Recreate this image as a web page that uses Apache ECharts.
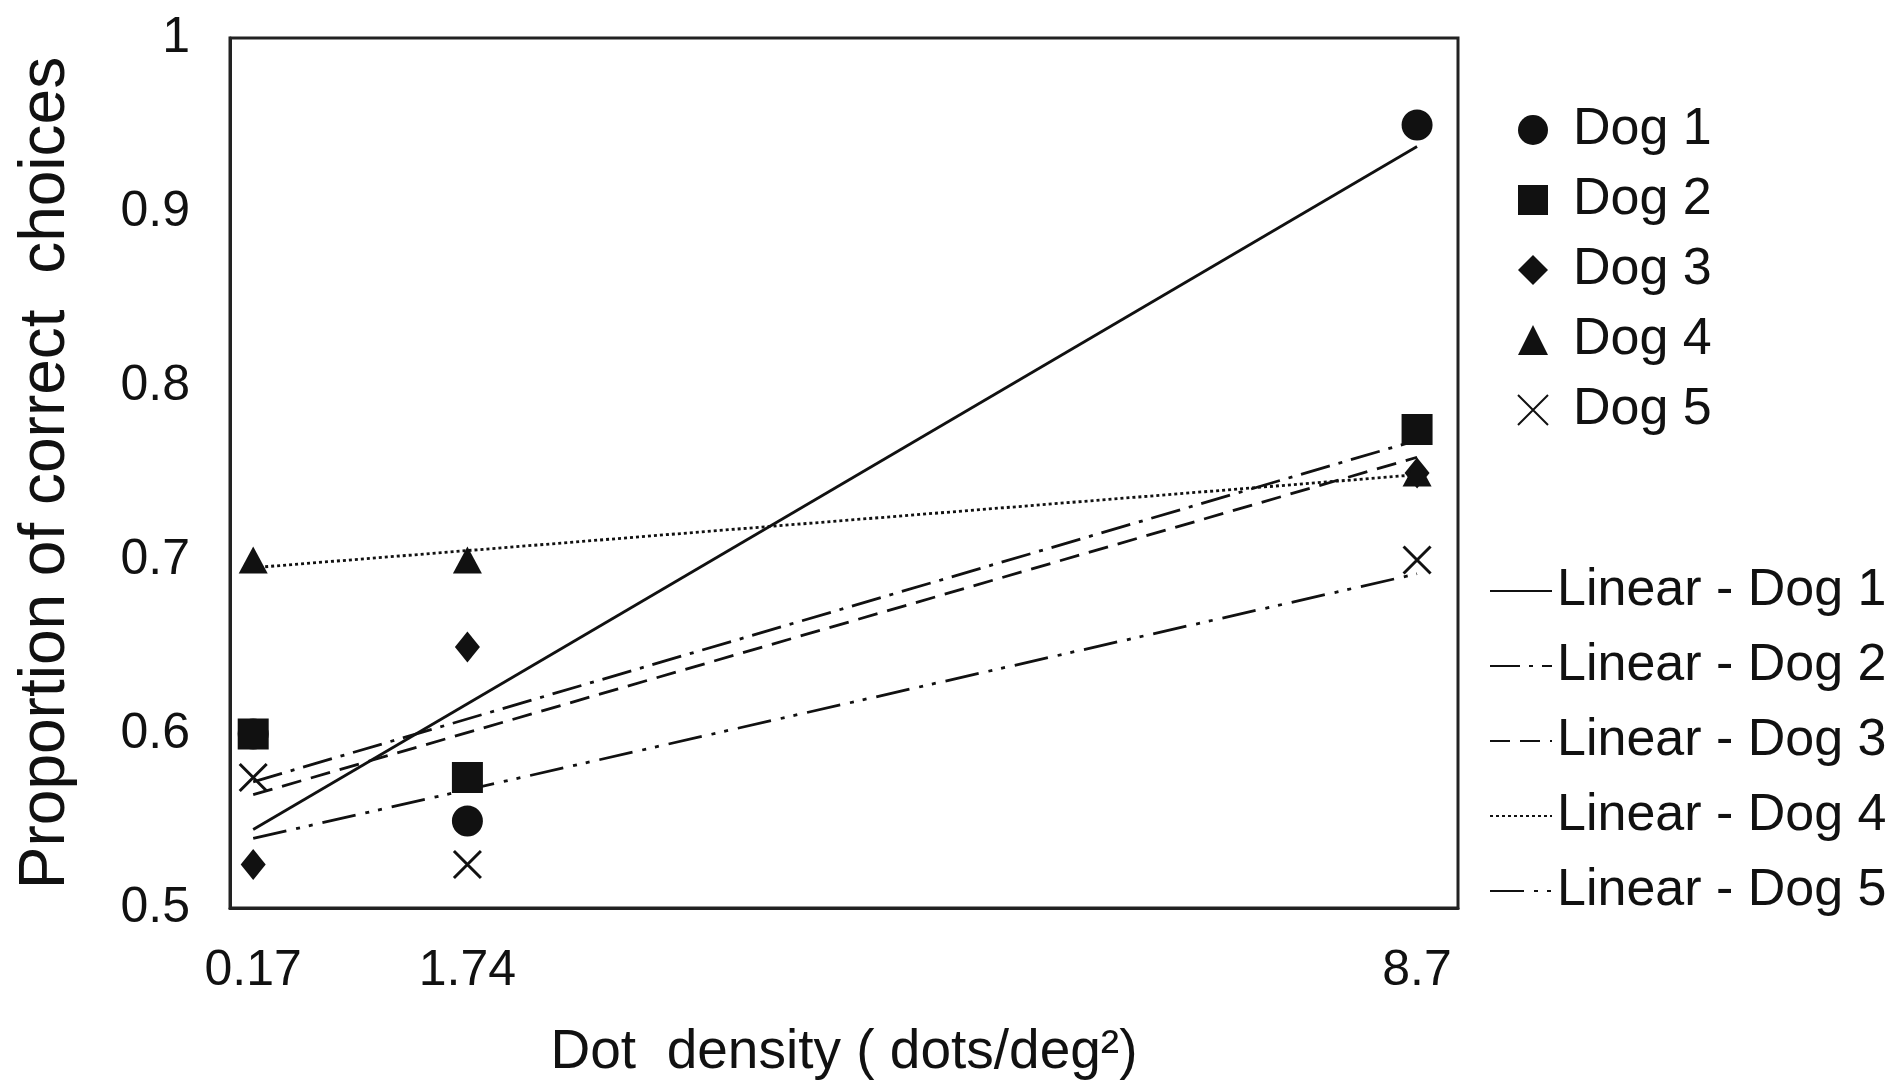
<!DOCTYPE html>
<html>
<head>
<meta charset="utf-8">
<script src="https://cdn.jsdelivr.net/npm/echarts@6/dist/echarts.min.js"></script>
<style>
  html, body { margin: 0; padding: 0; background: #fff; }
  #chart { width: 1902px; height: 1085px; }
</style>
</head>
<body>
<div id="chart"></div>
<script>
// dot density levels (x) and proportion correct per dog
const densities = [0.17, 1.74, 8.7];
const dog1 = [0.6, 0.55, 0.95];
const dog2 = [0.6, 0.575, 0.775];
const dog3 = [0.525, 0.65, 0.75];
const dog4 = [0.7, 0.7, 0.75];
const dog5 = [0.575, 0.525, 0.7];
const xTickLabels = [0.17, 1.74, 8.7];
const dogNames = ['Dog 1', 'Dog 2', 'Dog 3', 'Dog 4', 'Dog 5'];
const lineNames = ['Linear - Dog 1', 'Linear - Dog 2', 'Linear - Dog 3', 'Linear - Dog 4', 'Linear - Dog 5'];

const sans = "'Liberation Sans', Arial, sans-serif";
const ink = '#111';

// least squares trend line, from first to last x
function trend (xs, ys) {
  const n = xs.length;
  const mx = xs.reduce((a, b) => a + b, 0) / n;
  const my = ys.reduce((a, b) => a + b, 0) / n;
  let sxy = 0, sxx = 0;
  for (let i = 0; i < n; i++) {
    sxy += (xs[i] - mx) * (ys[i] - my);
    sxx += (xs[i] - mx) * (xs[i] - mx);
  }
  const b = sxy / sxx;
  const a = my - b * mx;
  return [[xs[0], a + b * xs[0]], [xs[n - 1], a + b * xs[n - 1]]];
}

function pts (ys) {
  return densities.map((x, i) => [x, ys[i]]);
}

const dogs = [dog1, dog2, dog3, dog4, dog5];
const symbols = ['circle', 'rect', 'diamond', 'triangle', 'path://M0,0L10,10M10,0L0,10'];
const symbolSizes = [[31, 31], [31, 31], [25, 31], [29, 27], [27, 27]];
const dashes = ['solid', [30, 9, 4, 9], [20, 10], [3, 3], [34, 10, 4, 9, 4, 10]];

const lineSeries = dogs.map((ys, i) => ({
  name: lineNames[i],
  type: 'line',
  data: trend(densities, ys),
  symbol: 'none',
  silent: true,
  z: 2,
  lineStyle: { color: ink, width: 2.8, type: dashes[i] },
  itemStyle: { color: 'rgba(0,0,0,0)', borderWidth: 0 }
}));

const markerSeries = dogs.map((ys, i) => ({
  name: dogNames[i],
  type: 'scatter',
  data: pts(ys),
  symbol: symbols[i],
  symbolSize: symbolSizes[i],
  z: 3,
  itemStyle: i === 4
    ? { color: 'rgba(0,0,0,0)', borderColor: ink, borderWidth: 3, opacity: 1 }
    : { color: ink, opacity: 1 }
}));

const option = {
  backgroundColor: '#fff',
  animation: false,
  grid: {
    left: 230,
    right: 444,
    top: 38,
    bottom: 175,
    show: true,
    borderColor: '#222',
    borderWidth: 3
  },
  legend: [{
    data: dogNames,
    orient: 'vertical',
    left: 1512,
    top: 99,
    itemWidth: 30,
    itemHeight: 30,
    itemGap: 18,
    selectedMode: false,
    textStyle: { fontFamily: sans, fontSize: 52, color: ink, lineHeight: 52, padding: [0, 0, 0, 20] }
  }, {
    data: lineNames,
    orient: 'vertical',
    left: 1484,
    top: 560,
    itemWidth: 62,
    itemHeight: 30,
    itemGap: 23,
    selectedMode: false,
    textStyle: { fontFamily: sans, fontSize: 52, color: ink, lineHeight: 52 }
  }],
  xAxis: {
    type: 'value',
    min: 0,
    max: 9,
    name: 'Dot  density ( dots/deg²)',
    nameLocation: 'middle',
    nameGap: 117,
    nameTextStyle: { fontFamily: sans, fontSize: 55, color: ink, verticalAlign: 'top' },
    axisLine: { show: true, lineStyle: { color: '#222', width: 3 } },
    axisTick: { show: false },
    splitLine: { show: false },
    axisLabel: {
      customValues: xTickLabels,
      margin: 38,
      fontFamily: sans,
      fontSize: 50,
      color: ink
    }
  },
  yAxis: {
    type: 'value',
    min: 0.5,
    max: 1,
    interval: 0.1,
    name: 'Proportion of correct  choices',
    nameLocation: 'middle',
    nameRotate: 90,
    nameGap: 152,
    nameTextStyle: { fontFamily: sans, fontSize: 64, color: ink },
    axisLine: { show: true, lineStyle: { color: '#222', width: 3 } },
    axisTick: { show: false },
    splitLine: { show: false },
    axisLabel: {
      margin: 40,
      fontFamily: sans,
      fontSize: 50,
      color: ink
    }
  },
  series: lineSeries.concat(markerSeries)
};

const chart = echarts.init(document.getElementById('chart'));
chart.setOption(option);
</script>
</body>
</html>
